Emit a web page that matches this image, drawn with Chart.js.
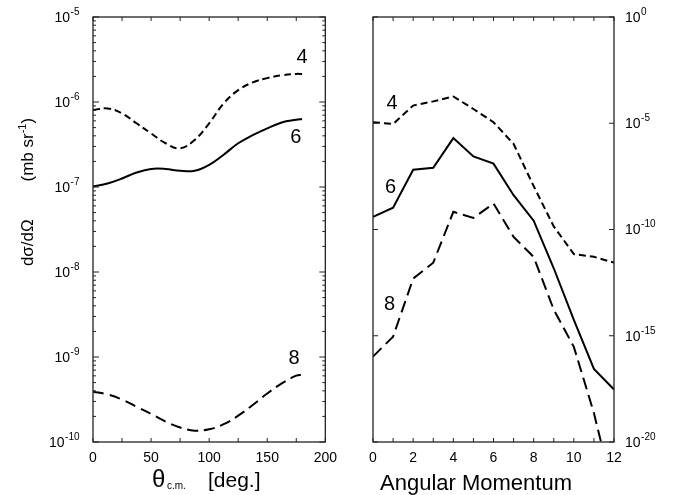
<!DOCTYPE html>
<html>
<head>
<meta charset="utf-8">
<script src="https://cdn.jsdelivr.net/npm/chart.js@4.4.1/dist/chart.umd.min.js"></script>
<style>
  html, body { margin: 0; padding: 0; background: #fff; }
  #wrap { position: relative; width: 680px; height: 495px; overflow: hidden; }
  #c1 { position: absolute; left: 0; top: 0; }
  #c2 { position: absolute; left: 345px; top: 0; }
</style>
</head>
<body>
<div id="wrap">
  <canvas id="c1" width="345" height="495"></canvas>
  <canvas id="c2" width="335" height="495"></canvas>
</div>
<script>
// ---------- Left panel data: dσ/dΩ vs θ_c.m. ----------
const thetaDeg = [0, 12.5, 25, 37.5, 50, 62.5, 75, 87.5, 100, 112.5, 125, 137.5, 150, 162.5, 175, 180];
const xsec4 = [8.05e-7, 8.4e-7, 7.36e-7, 5.62e-7, 4.27e-7, 3.27e-7, 2.85e-7, 3.57e-7, 5.62e-7, 9.64e-7, 1.38e-6, 1.70e-6, 1.91e-6, 2.06e-6, 2.14e-6, 2.14e-6];
const xsec6 = [1.01e-7, 1.10e-7, 1.26e-7, 1.48e-7, 1.63e-7, 1.63e-7, 1.55e-7, 1.55e-7, 1.82e-7, 2.40e-7, 3.27e-7, 4.07e-7, 4.90e-7, 5.75e-7, 6.17e-7, 6.31e-7];
const xsec8 = [3.91e-10, 3.63e-10, 3.16e-10, 2.60e-10, 2.14e-10, 1.74e-10, 1.48e-10, 1.36e-10, 1.41e-10, 1.62e-10, 2.04e-10, 2.72e-10, 3.72e-10, 4.90e-10, 6.03e-10, 6.17e-10];
const thetaTicks = [0, 50, 100, 150, 200];
const leftDecades = [-10, -9, -8, -7, -6, -5];

// ---------- Right panel data: vs angular momentum ----------
const angMom = [0, 1, 2, 3, 4, 5, 6, 7, 8, 9, 10, 11, 12];
const partial4 = [1.12e-5, 9.3e-6, 6.8e-5, 1.07e-4, 1.82e-4, 4.7e-5, 1.12e-5, 1.07e-6, 1.1e-8, 1.4e-10, 6.9e-12, 5.2e-12, 2.75e-12];
const partial6 = [3.9e-10, 1.07e-9, 6.5e-8, 8.1e-8, 2.0e-6, 2.75e-7, 1.26e-7, 4.1e-9, 2.6e-10, 1.5e-12, 5.6e-15, 2.75e-17, 2.95e-18];
const partial8 = [1.05e-16, 9.1e-16, 4.9e-13, 2.75e-12, 6.8e-10, 3.5e-10, 1.66e-9, 4.5e-11, 5.1e-12, 1.7e-14, 3.0e-16, 2.3e-19, 3.2e-23];
const lTicks = [0, 2, 4, 6, 8, 10, 12];
const rightDecades = [0, -5, -10, -15, -20];

// curve labels in data coordinates
const leftLabels = [{t: '4', x: 180, y: 2.9e-6}, {t: '6', x: 174.6, y: 3.3e-7}, {t: '8', x: 173, y: 8.3e-10}];
const rightLabels = [{t: '4', x: 0.95, y: 4.9e-5}, {t: '6', x: 0.87, y: 5.0e-9}, {t: '8', x: 0.82, y: 1.66e-14}];

const FONT = '"Liberation Sans", Arial, Helvetica, sans-serif';
const INK = '#000';

function pts(xs, ys) { return xs.map((x, i) => ({x: x, y: ys[i]})); }

function drawPow(ctx, exp, x, y, align) {
  ctx.save();
  ctx.fillStyle = INK;
  ctx.textBaseline = 'middle';
  ctx.textAlign = 'left';
  ctx.font = '14px ' + FONT;
  const base = '10';
  const wb = ctx.measureText(base).width;
  ctx.font = '10px ' + FONT;
  const es = String(exp);
  const we = ctx.measureText(es).width;
  let x0 = align === 'right' ? x - wb - we : x;
  ctx.font = '14px ' + FONT;
  ctx.fillText(base, x0, y + 1);
  ctx.font = '10px ' + FONT;
  ctx.fillText(es, x0 + wb + 0.5, y - 5);
  ctx.restore();
}

function frame(ctx, a) {
  ctx.save();
  ctx.strokeStyle = '#222';
  ctx.lineWidth = 1.3;
  ctx.strokeRect(a.left, a.top, a.right - a.left, a.bottom - a.top);
  ctx.restore();
}

function tickLine(ctx, x1, y1, x2, y2) {
  ctx.beginPath(); ctx.moveTo(x1, y1); ctx.lineTo(x2, y2); ctx.stroke();
}

const leftDeco = {
  id: 'leftDeco',
  afterDatasetsDraw(chart) {
    const ctx = chart.ctx, a = chart.chartArea;
    const xs = chart.scales.x, ys = chart.scales.y;
    frame(ctx, a);
    ctx.save();
    ctx.strokeStyle = '#222';
    ctx.lineWidth = 1;
    for (let v = 0; v <= 200; v += 25) {
      const px = xs.getPixelForValue(v);
      tickLine(ctx, px, a.bottom, px, a.bottom - 4);
      tickLine(ctx, px, a.top, px, a.top + 4);
    }
    for (let e = leftDecades[0]; e <= leftDecades[leftDecades.length - 1]; e++) {
      const py = ys.getPixelForValue(Math.pow(10, e));
      tickLine(ctx, a.left, py, a.left + 6, py);
      tickLine(ctx, a.right, py, a.right - 6, py);
      if (e < leftDecades[leftDecades.length - 1]) {
        for (let m = 2; m <= 9; m++) {
          const pm = ys.getPixelForValue(m * Math.pow(10, e));
          tickLine(ctx, a.left, pm, a.left + 3, pm);
          tickLine(ctx, a.right, pm, a.right - 3, pm);
        }
      }
    }
    ctx.restore();
    leftDecades.forEach(e => drawPow(ctx, e, a.left - 14, ys.getPixelForValue(Math.pow(10, e)), 'right'));
    // curve labels
    ctx.save();
    ctx.fillStyle = INK;
    ctx.font = '20px ' + FONT;
    ctx.textAlign = 'center';
    ctx.textBaseline = 'alphabetic';
    leftLabels.forEach(l => ctx.fillText(l.t, xs.getPixelForValue(l.x), ys.getPixelForValue(l.y)));
    // x title
    ctx.textAlign = 'left';
    ctx.font = '24px ' + FONT;
    ctx.fillText('θ', 152, 487);
    ctx.font = '10px ' + FONT;
    ctx.fillText('c.m.', 167, 489);
    ctx.font = '21px ' + FONT;
    ctx.fillText('[deg.]', 208, 487);
    // y title (rotated)
    ctx.translate(27, 192);
    ctx.rotate(-Math.PI / 2);
    const segs = [
      {t: 'dσ/dΩ', f: '17px', dy: 0},
      {t: '        ', f: '17px', dy: 0},
      {t: '(mb sr', f: '17px', dy: 0},
      {t: '-1', f: '11px', dy: -7},
      {t: ')', f: '17px', dy: 0}
    ];
    let tot = 0;
    segs.forEach(s => { ctx.font = s.f + ' ' + FONT; s.w = ctx.measureText(s.t).width; tot += s.w; });
    let cx = -tot / 2;
    segs.forEach(s => { ctx.font = s.f + ' ' + FONT; ctx.fillText(s.t, cx, 6 + s.dy); cx += s.w; });
    ctx.restore();
  }
};

const rightDeco = {
  id: 'rightDeco',
  afterDatasetsDraw(chart) {
    const ctx = chart.ctx, a = chart.chartArea;
    const xs = chart.scales.x, ys = chart.scales.y;
    frame(ctx, a);
    ctx.save();
    ctx.strokeStyle = '#222';
    ctx.lineWidth = 1;
    for (let v = 0; v <= 12; v += 1) {
      const px = xs.getPixelForValue(v);
      tickLine(ctx, px, a.bottom, px, a.bottom - 4);
      tickLine(ctx, px, a.top, px, a.top + 4);
    }
    rightDecades.forEach(e => {
      const py = ys.getPixelForValue(Math.pow(10, e));
      tickLine(ctx, a.left, py, a.left + 5, py);
      tickLine(ctx, a.right, py, a.right - 5, py);
    });
    ctx.restore();
    rightDecades.forEach(e => drawPow(ctx, e, a.right + 11, ys.getPixelForValue(Math.pow(10, e)), 'left'));
    ctx.save();
    ctx.fillStyle = INK;
    ctx.font = '20px ' + FONT;
    ctx.textAlign = 'center';
    ctx.textBaseline = 'alphabetic';
    rightLabels.forEach(l => ctx.fillText(l.t, xs.getPixelForValue(l.x), ys.getPixelForValue(l.y)));
    ctx.textAlign = 'left';
    ctx.font = '22px ' + FONT;
    ctx.fillText('Angular Momentum', 380 - 345, 490);
    ctx.restore();
  }
};

function lineDS(data, dash, tension) {
  return {
    data: data,
    borderColor: INK,
    borderWidth: 2,
    borderDash: dash,
    pointRadius: 0,
    tension: tension,
    fill: false,
    clip: 0
  };
}

function xAxis(min, max, step, ticks) {
  return {
    type: 'linear',
    min: min, max: max,
    display: true,
    grid: { display: false, drawTicks: false },
    border: { display: false },
    afterFit(s) { s.height = 53; },
    afterBuildTicks(s) { s.ticks = ticks.map(v => ({value: v})); },
    ticks: {
      padding: 8,
      color: INK,
      font: { family: FONT, size: 14 },
      maxRotation: 0,
      autoSkip: false,
      callback: v => String(v)
    }
  };
}

Chart.defaults.font.family = FONT;

new Chart(document.getElementById('c1'), {
  type: 'line',
  data: {
    datasets: [
      lineDS(pts(thetaDeg, xsec4), [7, 4], 0.4),
      lineDS(pts(thetaDeg, xsec6), [], 0.4),
      lineDS(pts(thetaDeg, xsec8), [11, 6], 0.4)
    ]
  },
  options: {
    responsive: false,
    animation: false,
    events: [],
    layout: { padding: { left: 93, right: 12, top: 17, bottom: 0 } },
    plugins: { legend: { display: false }, tooltip: { enabled: false } },
    scales: {
      x: xAxis(0, 200, 50, thetaTicks),
      y: { type: 'logarithmic', min: 1e-10, max: 1e-5, display: false }
    }
  },
  plugins: [leftDeco]
});

new Chart(document.getElementById('c2'), {
  type: 'line',
  data: {
    datasets: [
      lineDS(pts(angMom, partial4), [7, 4], 0),
      lineDS(pts(angMom, partial6), [], 0),
      lineDS(pts(angMom, partial8), [12, 6], 0)
    ]
  },
  options: {
    responsive: false,
    animation: false,
    events: [],
    layout: { padding: { left: 28, right: 66, top: 17, bottom: 0 } },
    plugins: { legend: { display: false }, tooltip: { enabled: false } },
    scales: {
      x: xAxis(0, 12, 2, lTicks),
      y: { type: 'logarithmic', min: 1e-20, max: 1, display: false }
    }
  },
  plugins: [rightDeco]
});
</script>
</body>
</html>
